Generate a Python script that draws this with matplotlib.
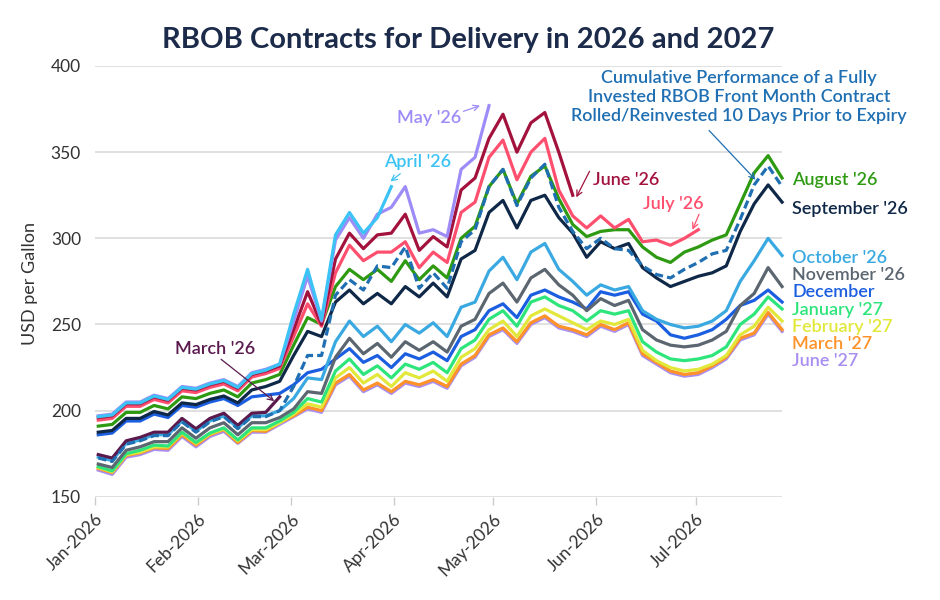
import numpy as np
import pandas as pd
import matplotlib
matplotlib.use("Agg")
from matplotlib import pyplot as plt
import matplotlib.dates as mdates
import matplotlib.transforms as mtransforms

plt.rcParams['font.family'] = ['Lato', 'DejaVu Sans']

# Datas (amostragem aproximada, ~4 dias)
dates = pd.date_range('2026-01-02', '2026-07-27', periods=50)

# Contratos (USD por galão)
mar26 = [174.5, 172.5, 182.5, 184.5, 187.5, 187.5, 195.5, 189.5, 195.5, 198.5, 191.5, 198.5, 199, 208]
apr26 = [196.5, 197.5, 204.5, 204.5, 208.5, 206.5, 213.5, 212.5, 215.5, 217.5, 213.5, 221.5, 223.5,
         227, 256, 282, 253, 302, 315, 303, 312, 330]
may26 = [197, 198, 205, 205, 209, 207, 214, 213, 216, 218, 214, 222, 224,
         227, 252, 278, 252, 299, 312, 300, 314, 318, 330, 303, 305, 301, 340, 347, 377]
jun26 = [196, 197, 204, 204, 208, 206, 213, 212, 215, 217, 213, 221, 223,
         226, 247, 269, 250, 288, 303, 294, 302, 303, 314, 293, 301, 295, 328, 335, 358,
         372, 350, 367, 373, 350, 325]
jul26 = [194.5, 195.5, 202.5, 202.5, 206.5, 204.5, 211.5, 210.5, 213.5, 215.5, 211.5, 219.5, 221.5,
         224.5, 243, 262, 249, 280, 296, 287, 292, 292, 298, 283, 292, 286, 315, 321, 347,
         357, 334, 350, 358, 328, 313, 306, 313, 306, 311, 298, 299, 296, 300, 305]
aug26 = [191, 192, 199, 199, 203, 201, 208, 207, 210, 212, 208, 216, 218,
         221, 238, 254, 250, 272, 282, 276, 282, 275, 287, 276, 284, 277, 300, 307, 330,
         340, 320, 336, 342, 323, 308, 301, 304, 305, 305, 295, 289, 286, 292, 295, 299,
         302, 320, 338, 348, 335]
sep26 = [187.5, 188.5, 195.5, 195.5, 199.5, 197.5, 204.5, 203.5, 206.5, 208.5, 204.5, 212, 214,
         217, 232, 246, 243, 263, 270, 262, 268, 262, 272, 266, 274, 266, 288, 293, 315,
         322, 306, 322, 325, 312, 303, 289, 298, 294, 297, 283, 277, 272, 275, 278, 280,
         284, 304, 320, 331, 321]
oct26 = [173, 171, 181, 183, 186, 186, 194, 188, 194, 197, 190, 197, 197,
         200, 207, 219, 218, 240, 252, 243, 249, 240, 250, 245, 251, 243, 260, 263, 281,
         289, 276, 292, 297, 282, 275, 267, 273, 270, 272, 258, 253, 250, 248, 249, 252,
         258, 275, 287, 300, 290]
nov26 = [169, 167, 177, 179, 182, 182, 190, 184, 190, 193, 186, 193, 193,
         196, 201, 211, 210, 231, 242, 233, 239, 231, 240, 235, 240, 234, 249, 253, 268,
         274, 263, 277, 282, 273, 267, 258, 265, 261, 264, 247, 241, 238, 237, 238, 241,
         246, 261, 268, 283, 272]
dec26 = [186, 187, 194, 194, 198, 196, 203, 202, 205, 207, 203, 208, 209,
         210, 215, 222, 224, 230, 236, 228, 232, 225, 233, 230, 234, 229, 243, 247, 258,
         262, 254, 267, 270, 266, 263, 259, 269, 267, 269, 256, 252, 244, 242, 244, 247,
         253, 261, 264, 270, 263]
jan27 = [167.5, 165, 175, 177, 180, 179.5, 187.5, 181.5, 187, 190, 183, 190, 190,
         194, 199, 207, 205, 223, 230, 221, 226, 219, 227, 224, 228, 222, 236, 241, 253,
         258, 249, 263, 266, 261, 258, 252, 258, 256, 258, 240, 234, 230, 229, 230, 232,
         237, 250, 256, 266, 259]
feb27 = [167, 164.5, 174.5, 176, 179, 179, 187, 181, 186.5, 189.5, 182.5, 189, 189,
         193, 198, 204, 202, 219, 225, 216, 221, 214, 222, 219, 223, 217, 231, 236, 247,
         252, 243, 255, 259, 255, 251, 247, 252, 250, 253, 235, 229, 225, 223, 224, 227,
         232, 244, 249, 260, 252]
mar27 = [166.5, 164, 174, 175.5, 178.5, 178, 186, 180, 186, 189, 181.5, 188.5, 188,
         193, 197, 202, 200, 216, 221, 212, 216, 211, 217, 215, 218, 214, 227, 232, 244,
         248, 240, 251, 255, 249, 247, 244, 250, 247, 251, 233, 228, 223, 221, 222, 226,
         231, 242, 245, 257, 247]
jun27 = [165.5, 163, 173, 174.5, 177.5, 177, 185, 179, 185, 188, 181, 187.5, 187.5,
         192, 196.5, 201, 199, 215, 220, 211, 215, 210, 216, 214, 217, 213, 226, 231, 243,
         247, 239, 250, 254, 248, 246, 243, 249, 246, 250, 232, 227, 222, 220, 221, 225,
         230, 241, 244, 256, 246]
# Desempenho acumulado (front month rolado 10 dias antes do vencimento)
cumulative = [172.5, 170.5, 180.5, 182.5, 185.5, 185.5, 193.5, 187.5, 193.5, 196.5, 189.5, 196.5, 196.5,
              200, 214, 232, 232, 267, 276, 270, 284, 283, 295, 271, 280, 271, 298, 305, 330,
              340, 319, 335, 343, 318, 304, 294, 300, 294, 293, 284, 279, 277, 282, 286, 291,
              293, 311, 331, 342, 330]

# (nome, valores, cor) na ordem de desenho
series = [
    ("June '27", jun27, '#a98ef2'),
    ("March '27", mar27, '#ff9228'),
    ("February '27", feb27, '#e2e83a'),
    ("January '27", jan27, '#2ee57c'),
    ("December", dec26, '#1b5ee0'),
    ("November '26", nov26, '#5c6670'),
    ("October '26", oct26, '#3aa9e1'),
    ("September '26", sep26, '#0f2847'),
    ("August '26", aug26, '#2e9a12'),
    ("July '26", jul26, '#ff4f6e'),
    ("June '26", jun26, '#a3123d'),
    ("May '26", may26, '#9d8cf7'),
    ("April '26", apr26, '#3cc3f5'),
    ("March '26", mar26, '#5b1a4e'),
]
cores = {nome: cor for nome, _, cor in series}
cor_cum = '#1f6fb2'

# Rótulos à direita (posição vertical em USD)
rotulos_dir = [("August '26", 334), ("September '26", 317), ("October '26", 288.5),
               ("November '26", 278.5), ("December", 268.7), ("January '27", 258.3),
               ("February '27", 248.4), ("March '27", 238.5), ("June '27", 228.7)]

FS = 13

if __name__ == '__main__':
    fig = plt.figure(figsize=(9.4, 6), dpi=100)
    ax = fig.add_axes([0.101, 0.172, 0.731, 0.718])

    for nome, valores, cor in series:
        ax.plot(dates[:len(valores)], valores, color=cor, lw=2.3,
                solid_joinstyle='round', clip_on=False)
    ax.plot(dates, cumulative, color=cor_cum, lw=2.3, linestyle=(0, (2.6, 1.3)),
            clip_on=False)

    ax.set_xlim(pd.Timestamp('2026-01-01'), pd.Timestamp('2026-07-27'))
    ax.set_ylim(150, 400)
    ax.set_yticks([150, 200, 250, 300, 350, 400])
    ax.yaxis.grid(True, color='#dadada', lw=1.2)
    ax.set_axisbelow(True)
    for s in ax.spines.values():
        s.set_visible(False)
    ax.xaxis.set_major_locator(mdates.MonthLocator())
    ax.xaxis.set_major_formatter(mdates.DateFormatter('%b-%Y'))
    ax.tick_params(axis='x', colors='#cccccc', length=6, width=1, labelcolor='#333333',
                   labelsize=12.5, pad=4)
    ax.tick_params(axis='y', length=0, pad=10, labelcolor='#333333', labelsize=12.5)
    for lab in ax.get_xticklabels():
        lab.set_rotation(45)
        lab.set_ha('right')
        lab.set_rotation_mode('anchor')

    fig.text(0.498, 0.933, 'RBOB Contracts for Delivery in 2026 and 2027', ha='center',
             va='center', fontsize=21, fontweight='bold', color='#1c2b4a')
    fig.text(0.032, 0.528, 'USD per Gallon', rotation=90, ha='center', va='center',
             fontsize=13, color='#333333')

    trans = mtransforms.blended_transform_factory(ax.transAxes, ax.transData)
    for nome, yv in rotulos_dir:
        ax.text(1.015, yv, nome, transform=trans, ha='left', va='center', fontsize=FS,
                fontweight='semibold', color=cores[nome])

    seta = dict(arrowstyle='->', lw=0.9, shrinkA=0, shrinkB=0)
    T = pd.Timestamp
    # March '26
    ax.text(T('2026-01-25'), 235.6, "March '26", ha='left', va='center', fontsize=FS,
            fontweight='semibold', color=cores["March '26"])
    ax.annotate('', xy=(T('2026-02-24'), 205.5), xytext=(T('2026-02-08'), 229.8),
                arrowprops=dict(seta, color=cores["March '26"]))
    # April '26
    ax.text(T('2026-03-29'), 344, "April '26", ha='left', va='center', fontsize=FS,
            fontweight='semibold', color=cores["April '26"])
    ax.annotate('', xy=(T('2026-03-31'), 333), xytext=(T('2026-04-03'), 337.5),
                arrowprops=dict(seta, color=cores["April '26"]))
    # May '26
    ax.text(T('2026-04-02'), 369.6, "May '26", ha='left', va='center', fontsize=FS,
            fontweight='semibold', color=cores["May '26"])
    ax.annotate('', xy=(T('2026-04-27'), 377), xytext=(T('2026-04-22'), 373.7),
                arrowprops=dict(seta, color=cores["May '26"]))
    # June '26
    ax.text(T('2026-05-31'), 334, "June '26", ha='left', va='center', fontsize=FS,
            fontweight='semibold', color=cores["June '26"])
    ax.annotate('', xy=(T('2026-05-26'), 323.8), xytext=(T('2026-05-30'), 338.9),
                arrowprops=dict(seta, color=cores["June '26"]))
    # July '26
    ax.text(T('2026-06-15'), 319.7, "July '26", ha='left', va='center', fontsize=FS,
            fontweight='semibold', color=cores["July '26"])
    ax.annotate('', xy=(T('2026-06-30'), 305), xytext=(T('2026-07-02'), 314),
                arrowprops=dict(seta, color=cores["July '26"]))
    # Desempenho acumulado
    ax.text(T('2026-07-14'), 382, 'Cumulative Performance of a Fully\n'
            'Invested RBOB Front Month Contract\nRolled/Reinvested 10 Days Prior to Expiry',
            ha='center', va='center', fontsize=FS, fontweight='semibold', color=cor_cum,
            linespacing=1.2, clip_on=False)
    ax.annotate('', xy=(T('2026-07-19'), 334), xytext=(T('2026-07-05'), 362.6),
                arrowprops=dict(seta, color=cor_cum))

    plt.savefig('out.png', dpi=100)
